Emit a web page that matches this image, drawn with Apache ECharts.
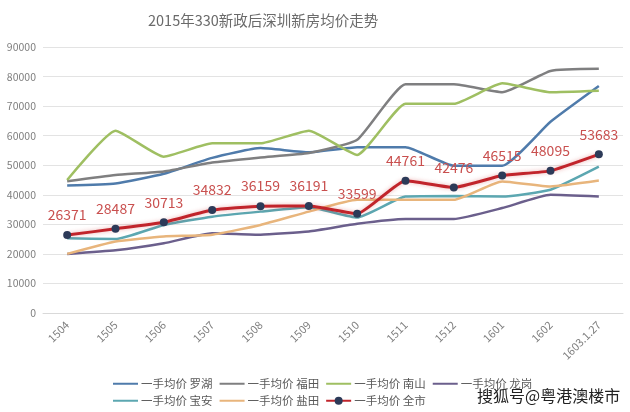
<!DOCTYPE html>
<html>
<head>
<meta charset="utf-8">
<script src="https://cdn.jsdelivr.net/npm/echarts@6/dist/echarts.min.js"></script>
<style>
html,body{margin:0;padding:0;background:#fff;}
#c{width:630px;height:412px;}
</style>
</head>
<body>
<div id="c"></div>
<script>
var titleText = '2015年330新政后深圳新房均价走势';
var categories = ['1504','1505','1506','1507','1508','1509','1510','1511','1512','1601','1602','1603.1.27'];
var yTicks = [0,10000,20000,30000,40000,50000,60000,70000,80000,90000];

var luohu   = [43100,43800,47100,52500,55800,54400,56100,56100,49800,49800,64700,76800];
var futian  = [44600,46700,47900,50900,52600,54100,58600,77400,77400,74700,81900,82600];
var nanshan = [45000,61700,52900,57400,57400,61700,53500,70800,70800,77700,74700,75200];
var longgang= [20000,21200,23600,27000,26500,27600,30200,31800,31800,35500,40000,39400];
var baoan   = [25300,25000,29800,32600,34300,35800,32300,39400,39600,39400,41700,49500];
var yantian = [20000,24200,25900,26500,29800,34300,38300,38300,38300,44500,42800,44800];
var quanshi = [26371,28487,30713,34832,36159,36191,33599,44761,42476,46515,48095,53683];

var names = ['一手均价 罗湖','一手均价 福田','一手均价 南山','一手均价 龙岗','一手均价 宝安','一手均价 盐田','一手均价 全市'];
var seriesData = [luohu, futian, nanshan, longgang, baoan, yantian, quanshi];
var colors = ['#4f7bab','#7f7f80','#9fbf62','#6b5f8c','#5ca7b1','#e8b57c','#c1242b'];

var chart = echarts.init(document.getElementById('c'), null, {renderer:'canvas'});
var font = '"Noto Sans CJK SC", "Noto Sans", sans-serif';

var series = seriesData.map(function(d, i){
  var isAll = (i === 6);
  var s = {
    name: names[i],
    type: 'line',
    data: d,
    smooth: 0.15,
    z: isAll ? 10 : 2 + i,
    symbol: isAll ? 'circle' : 'none',
    symbolSize: 8,
    showSymbol: isAll,
    itemStyle: { color: isAll ? '#2c3a58' : colors[i] },
    lineStyle: { color: colors[i], width: isAll ? 3 : 2.5 },
    emphasis: { disabled: true },
    animation: false
  };
  if (isAll) {
    s.lineStyle.shadowBlur = 4;
    s.lineStyle.shadowColor = 'rgba(200,40,40,0.35)';
    s.label = {
      show: true, position: 'top', distance: 9,
      color: '#c9504f', fontSize: 14, fontFamily: font
    };
  }
  return s;
});

function legendItems(list){
  return list.map(function(n){
    if (n === names[6]) return { name: n };
    return { name: n, itemStyle: { opacity: 0 } };
  });
}

var legendBase = {
  left: 112, itemWidth: 25, itemHeight: 10, itemGap: 6, orient: 'horizontal',
  textStyle: { color: '#595959', fontSize: 11.5, fontFamily: font, padding: [0,0,0,-2] },
  padding: 0
};

chart.setOption({
  backgroundColor: '#ffffff',
  animation: false,
  color: colors,
  title: {
    text: titleText, left: 143, top: 8,
    textStyle: { color: '#6a6a6a', fontSize: 14.5, fontWeight: 'normal', fontFamily: font }
  },
  legend: [
    Object.assign({}, legendBase, { top: 378, data: legendItems(names.slice(0,4)) }),
    Object.assign({}, legendBase, { top: 395, data: legendItems(names.slice(4)) })
  ],
  grid: { left: 43, right: 7, top: 47, bottom: 99, containLabel: false },
  xAxis: {
    type: 'category', data: categories, boundaryGap: true,
    axisLine: { show: true, lineStyle: { color: '#d9d9d9' } },
    axisTick: { show: false },
    axisLabel: { rotate: 45, color: '#7f7f7f', fontSize: 11, fontFamily: font, margin: 10, interval: 0 }
  },
  yAxis: {
    type: 'value', min: yTicks[0], max: yTicks[yTicks.length-1], interval: 10000,
    axisLine: { show: false }, axisTick: { show: false },
    splitLine: { lineStyle: { color: '#e3e3e3', width: 1 } },
    axisLabel: { color: '#7f7f7f', fontSize: 10.5, fontFamily: font, margin: 7,
                 formatter: function(v){ return String(v); } }
  },
  graphic: [{
    type: 'text', left: 476, top: 387,
    style: { text: '搜狐号@粤港澳楼市', fill: '#222', fontSize: 16, fontFamily: font,
             stroke: '#fff', lineWidth: 2 }
  }],
  series: series
});
</script>
</body>
</html>
